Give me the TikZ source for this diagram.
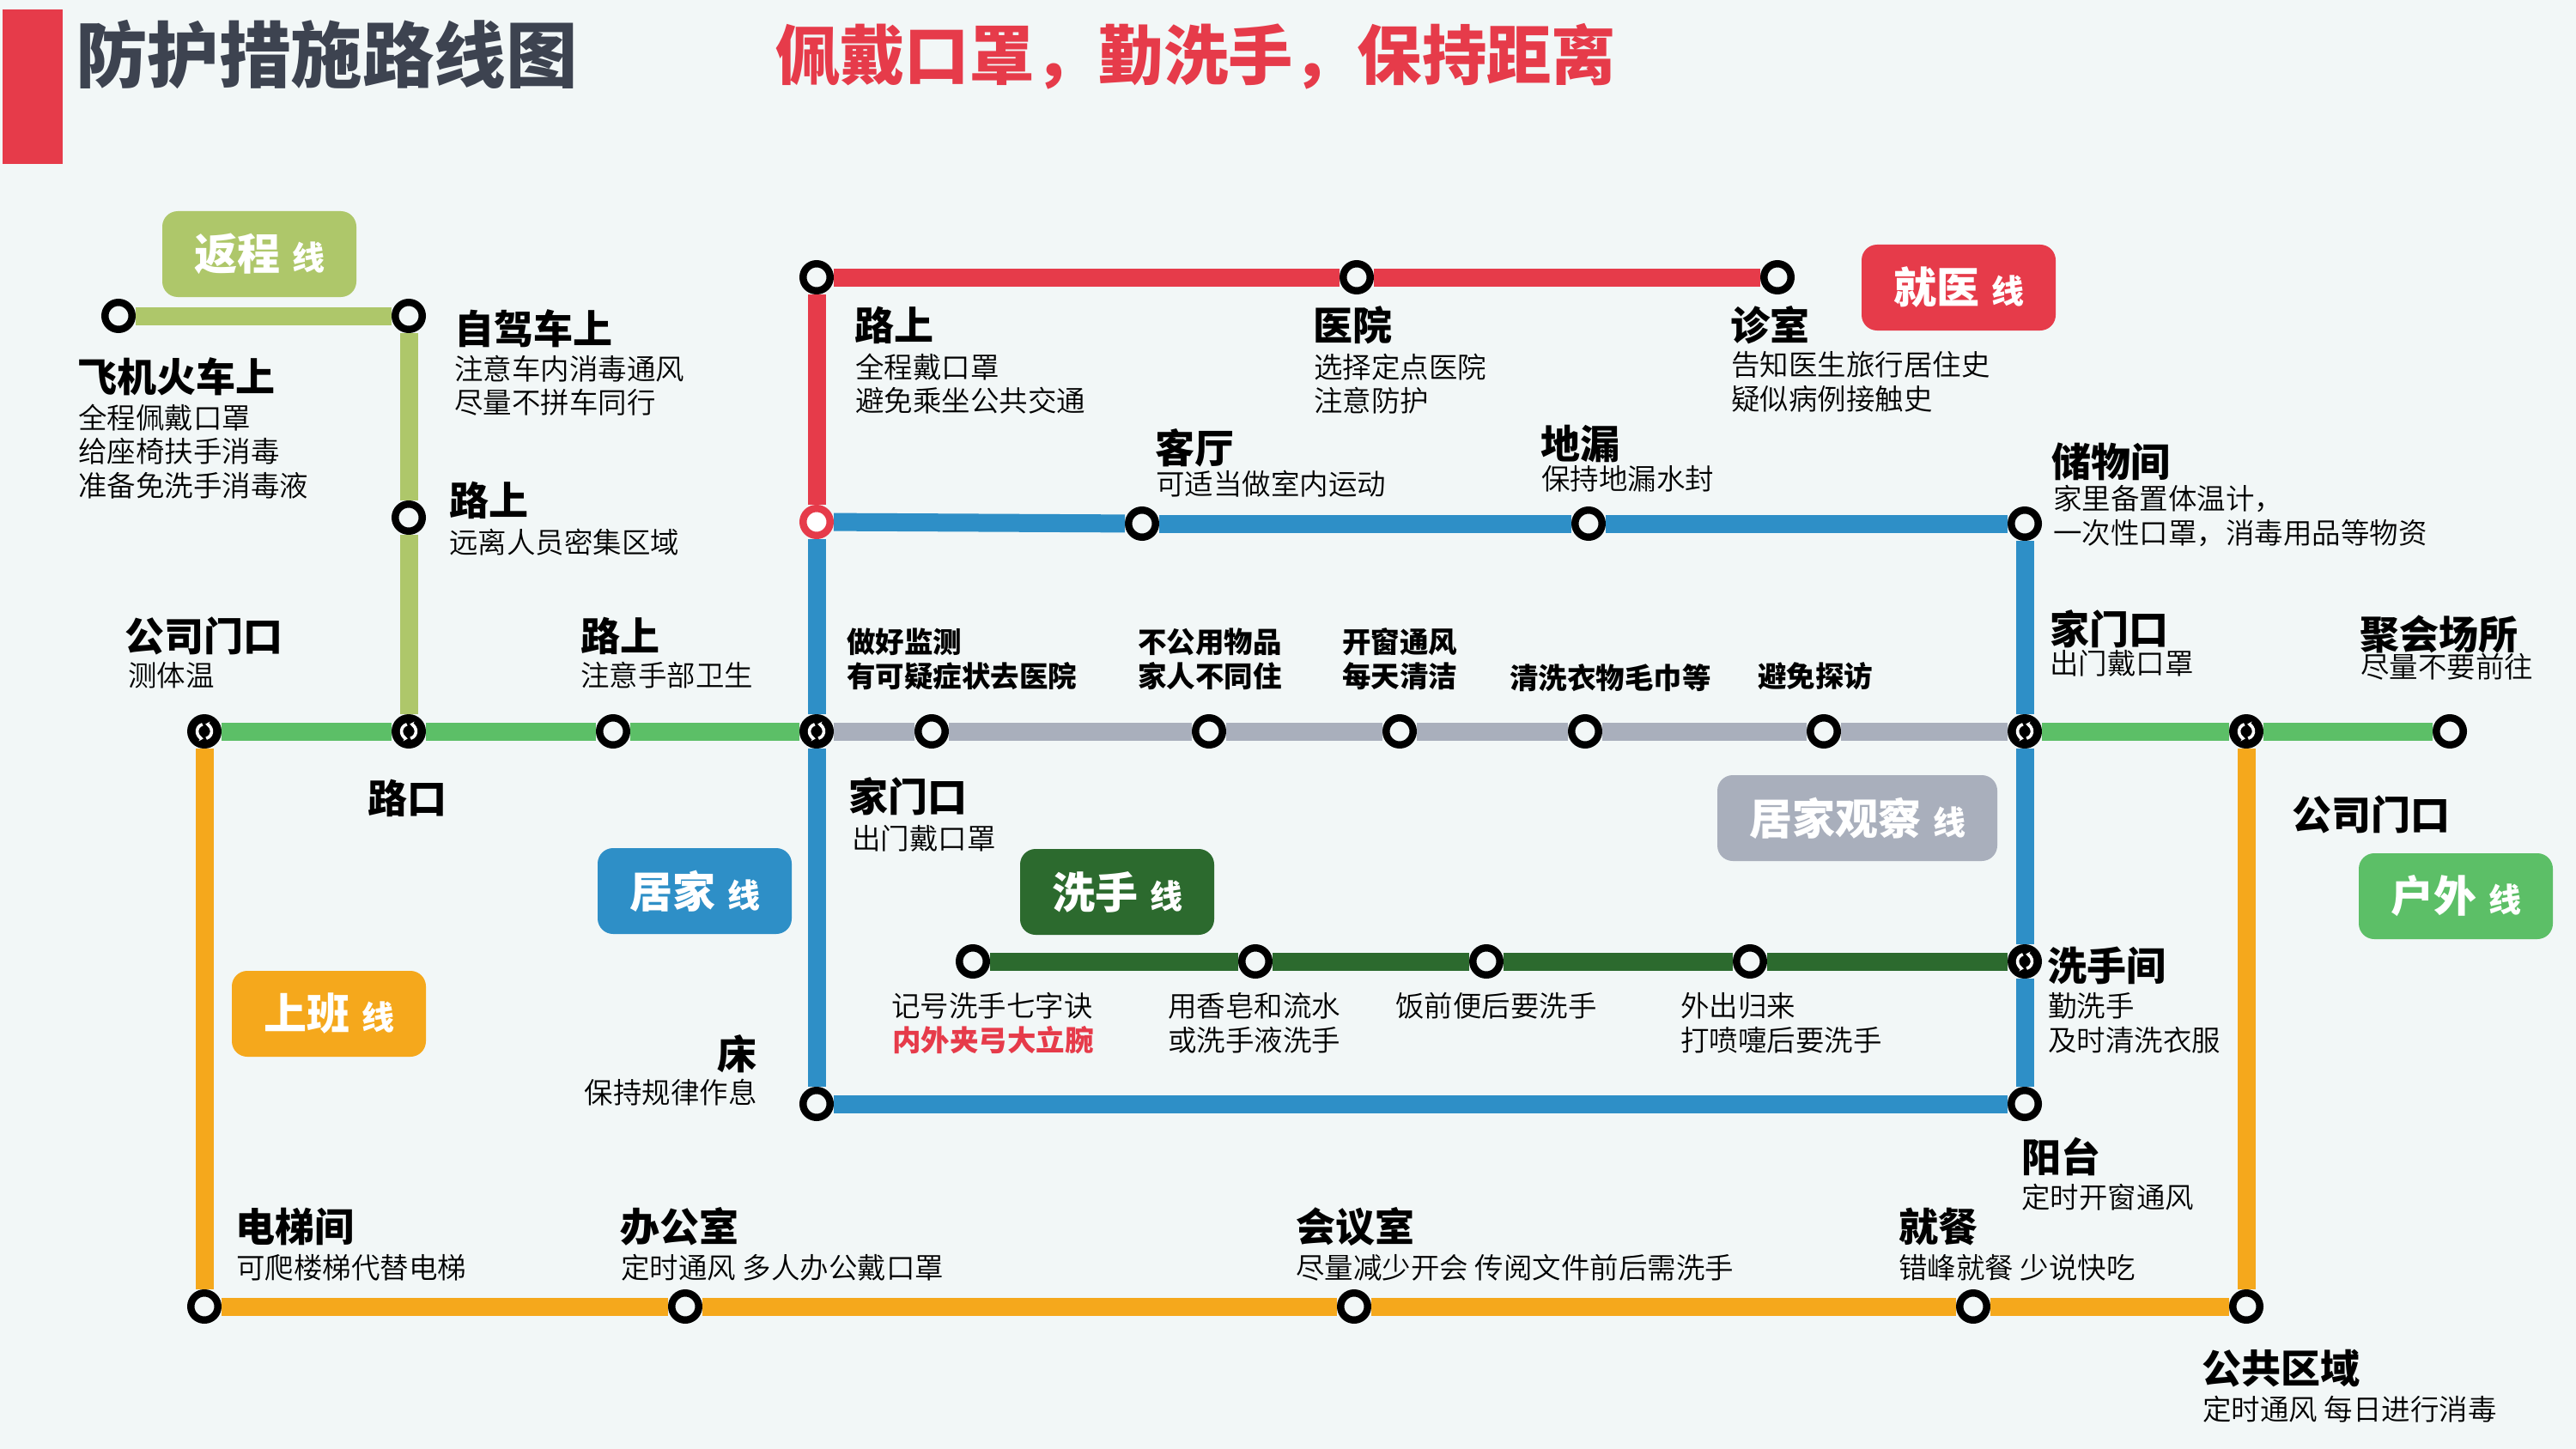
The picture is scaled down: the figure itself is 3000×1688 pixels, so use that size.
\documentclass[tikz,border=0pt]{standalone}
\usepackage{fontspec}
\setmainfont{Noto Sans CJK SC}
\newfontfamily\heavyfont{Noto Sans CJK SC Black}
\newfontfamily\lightfont{Noto Sans CJK SC DemiLight}
\usetikzlibrary{arrows.meta}
\definecolor{bgc}{HTML}{F2F7F7}
\definecolor{redc}{HTML}{E63B4A}
\definecolor{bluec}{HTML}{2E8FC7}
\definecolor{greenc}{HTML}{5CBF67}
\definecolor{olivec}{HTML}{AEC76A}
\definecolor{orangec}{HTML}{F5A81C}
\definecolor{darkc}{HTML}{2C6A2E}
\definecolor{greyc}{HTML}{A9AFBC}
\definecolor{titlec}{HTML}{3D4350}
\tikzset{
  stop/.style={circle,draw=black,line width=8.5pt,fill=bgc,minimum size=31.5pt,inner sep=0pt},
  xfer/.style={circle,fill=black,minimum size=40pt,inner sep=0pt,path picture={
    \draw[white,line width=3.6pt,-{Stealth[length=5pt,width=7.5pt]}] (path picture bounding box.center)
      ++(105:8.5pt) arc[start angle=105,end angle=262,radius=8.5pt];
    \draw[white,line width=3.6pt,-{Stealth[length=5pt,width=7.5pt]}] (path picture bounding box.center)
      ++(-75:8.5pt) arc[start angle=-75,end angle=82,radius=8.5pt];}},
  route/.style={line width=21pt},
  badge/.style={rounded corners=18pt,minimum width=226pt,minimum height=100pt,inner sep=0pt,text=white},
  headtxt/.style={anchor=west,inner sep=0pt,xshift=-2pt,font=\fontsize{46}{46}\selectfont\heavyfont},
  subtxt/.style={anchor=west,inner sep=0pt,xshift=-1pt,align=left,font=\fontsize{33.5}{39.5}\selectfont\lightfont},
  boldtxt/.style={anchor=west,inner sep=0pt,xshift=-1pt,align=left,font=\fontsize{33.5}{40}\selectfont\bfseries},
}
\newcommand{\badgetxt}[1]{{\fontsize{50}{50}\selectfont\heavyfont #1}\hspace{14pt}{\fontsize{38}{38}\selectfont\bfseries 线}}
\begin{document}
\begin{tikzpicture}[x=1pt,y=-1pt]
\fill[bgc] (0,0) rectangle (3000,1688);
\useasboundingbox (0,0) rectangle (3000,1688);
% heading
\fill[redc] (3,11) rectangle (73,191);
\node[anchor=west,inner sep=0pt,text=titlec,font=\fontsize{83.5}{83.5}\selectfont\heavyfont] (title) at (88,64) {防护措施路线图};
\node[anchor=west,inner sep=0pt,text=redc,font=\fontsize{75.3}{75.3}\selectfont\heavyfont] (slogan) at (903,66) {佩戴口罩，勤洗手，保持距离};
% stations
\foreach \name/\x/\y in {fly/138/368,car/476/368,road/476/603,
  redtop/951/323,hosp/1580/323,clinic/2070/323,
  room/1330/610,drain/1850/610,store/2358/610,
  bedroom/951/1286,balcony/2358/1286,
  streetw/714/852,watch/1085/852,nosh/1408/852,vent/1630/852,cloth/1846/852,visit/2124/852,
  party/2853/852,
  seven/1133/1120,soap/1462/1120,meal/1731/1120,back/2038/1120,
  lift/238/1522,office/798/1522,meet/1577/1522,lunch/2298/1522,public/2616/1522}
  \node[stop] (\name) at (\x,\y) {};
\node[stop,draw=redc,fill=white] (redjoin) at (951,608) {};
\foreach \name/\x/\y in {gate/238/852,cross/476/852,home/951/852,door/2358/852,outgate/2616/852,wash/2358/1120}
  \node[xfer] (\name) at (\x,\y) {};
% lines
\foreach \a/\b/\c in {fly/car/olivec,car/road/olivec,road/cross/olivec,
  gate/cross/greenc,cross/streetw/greenc,streetw/home/greenc,door/outgate/greenc,outgate/party/greenc,
  redtop/hosp/redc,hosp/clinic/redc,redtop/redjoin/redc,
  redjoin/room/bluec,room/drain/bluec,drain/store/bluec,store/door/bluec,door/wash/bluec,wash/balcony/bluec,
  redjoin/home/bluec,home/bedroom/bluec,bedroom/balcony/bluec,
  home/watch/greyc,watch/nosh/greyc,nosh/vent/greyc,vent/cloth/greyc,cloth/visit/greyc,visit/door/greyc,
  seven/soap/darkc,soap/meal/darkc,meal/back/darkc,back/wash/darkc,
  gate/lift/orangec,lift/office/orangec,office/meet/orangec,meet/lunch/orangec,lunch/public/orangec,public/outgate/orangec}
  \draw[route,\c] (\a) -- (\b);
% line badges
\node[badge,fill=olivec] (backline) at (302,296) {\badgetxt{返程}};
\node[badge,fill=redc] (doctorline) at (2281,335) {\badgetxt{就医}};
\node[badge,fill=bluec] (homeline) at (809,1038) {\badgetxt{居家}};
\node[badge,fill=darkc] (washline) at (1301,1039) {\badgetxt{洗手}};
\node[badge,fill=orangec] (workline) at (383,1181) {\badgetxt{上班}};
\node[badge,fill=greyc,minimum width=326pt] (watchline) at (2163,953) {\badgetxt{居家观察}};
\node[badge,fill=greenc] (outline) at (2860,1044) {\badgetxt{户外}};
% return line
\node[headtxt] (h1) at (92,439) {飞机火车上};
\node[subtxt] (s1) at (92,526) {全程佩戴口罩\\给座椅扶手消毒\\准备免洗手消毒液};
\node[headtxt] (h2) at (531,383) {自驾车上};
\node[subtxt] (s2) at (530,449) {注意车内消毒通风\\尽量不拼车同行};
\node[headtxt] (h3) at (525,583) {路上};
\node[subtxt] (s3) at (524,632) {远离人员密集区域};
% work line
\node[headtxt] (h4) at (147,741) {公司门口};
\node[subtxt] (s4) at (150,787) {测体温};
\node[headtxt] (h5) at (678,741) {路上};
\node[subtxt] (s5) at (677,787) {注意手部卫生};
\node[headtxt] (h6) at (430,930) {路口};
\node[headtxt] (h7) at (276,1429) {电梯间};
\node[subtxt] (s7) at (276,1477) {可爬楼梯代替电梯};
\node[headtxt] (h8) at (724,1429) {办公室};
\node[subtxt] (s8) at (724,1477) {定时通风 多人办公戴口罩};
\node[headtxt] (h9) at (1511,1429) {会议室};
\node[subtxt] (s9) at (1510,1477) {尽量减少开会 传阅文件前后需洗手};
\node[headtxt] (h10) at (2213,1429) {就餐};
\node[subtxt] (s10) at (2212,1477) {错峰就餐 少说快吃};
\node[headtxt] (h11) at (2566,1594) {公共区域};
\node[subtxt] (s11) at (2566,1642) {定时通风 每日进行消毒};
% doctor line
\node[headtxt] (h12) at (997,379) {路上};
\node[subtxt] (s12) at (997,447) {全程戴口罩\\避免乘坐公共交通};
\node[headtxt] (h13) at (1531,379) {医院};
\node[subtxt] (s13) at (1531,447) {选择定点医院\\注意防护};
\node[headtxt] (h14) at (2017,379) {诊室};
\node[subtxt] (s14) at (2017,445) {告知医生旅行居住史\\疑似病例接触史};
% home line
\node[headtxt] (h15) at (1347,522) {客厅};
\node[subtxt] (s15) at (1347,564) {可适当做室内运动};
\node[headtxt] (h16) at (1796,517) {地漏};
\node[subtxt] (s16) at (1796,558) {保持地漏水封};
\node[headtxt] (h17) at (2391,538) {储物间};
\node[subtxt] (s17) at (2392,601) {家里备置体温计，\\一次性口罩，消毒用品等物资};
\node[headtxt] (h18) at (2389,733) {家门口};
\node[subtxt] (s18) at (2388,773) {出门戴口罩};
\node[headtxt] (h19) at (990,928) {家门口};
\node[subtxt] (s19) at (993,977) {出门戴口罩};
\node[headtxt,anchor=east] (h20) at (884,1228) {床};
\node[subtxt,anchor=east] (s20) at (883,1273) {保持规律作息};
\node[headtxt] (h21) at (2356,1347) {阳台};
\node[subtxt] (s21) at (2355,1395) {定时开窗通风};
% watch line
\node[boldtxt] (b1) at (987,768) {做好监测\\有可疑症状去医院};
\node[boldtxt] (b2) at (1326,768) {不公用物品\\家人不同住};
\node[boldtxt] (b3) at (1564,768) {开窗通风\\每天清洁};
\node[boldtxt] (b4) at (1759,790) {清洗衣物毛巾等};
\node[boldtxt] (b5) at (2048,788) {避免探访};
% wash line
\node[subtxt] (s22) at (1039,1172) {记号洗手七字诀};
\node[boldtxt,text=redc] (b6) at (1040,1212) {内外夹弓大立腕};
\node[subtxt] (s23) at (1361,1192) {用香皂和流水\\或洗手液洗手};
\node[subtxt] (s24) at (1626,1172) {饭前便后要洗手};
\node[subtxt] (s25) at (1958,1192) {外出归来\\打喷嚏后要洗手};
\node[headtxt] (h22) at (2386,1125) {洗手间};
\node[subtxt] (s26) at (2386,1192) {勤洗手\\及时清洗衣服};
% outdoor line
\node[headtxt] (h23) at (2750,739) {聚会场所};
\node[subtxt] (s27) at (2750,777) {尽量不要前往};
\node[headtxt] (h24) at (2671,949) {公司门口};
\end{tikzpicture}
\end{document}
